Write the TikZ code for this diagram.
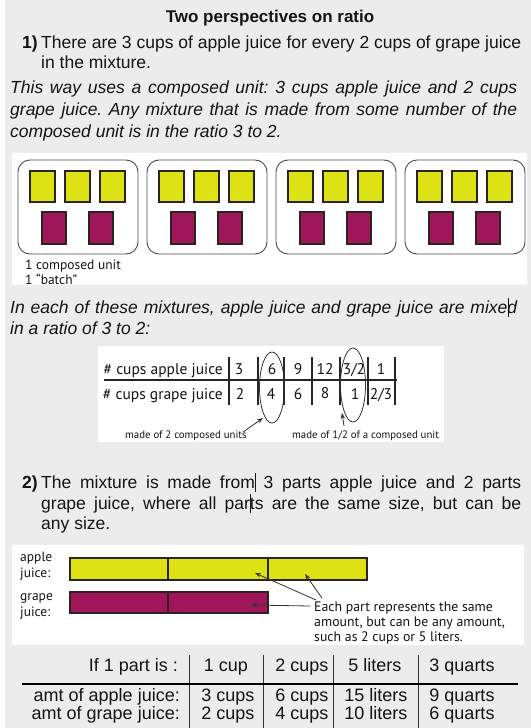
\documentclass[tikz,border=0pt]{standalone}
\usepackage{fontspec}
\setmainfont{Liberation Sans}
\newfontfamily\myr{PT Sans}
\usetikzlibrary{arrows.meta,shapes.geometric}
\definecolor{bgc}{RGB}{236,236,236}
\definecolor{ayel}{RGB}{220,226,20}
\definecolor{gpur}{RGB}{160,22,90}
\definecolor{edgec}{RGB}{45,35,30}
\definecolor{inkc}{RGB}{20,20,20}
\newcommand{\tcur}{\rlap{\kern0.3bp\rule[-4bp]{0.7bp}{19bp}}}
\frenchspacing
\tikzset{
  bodyt/.style={inner sep=0, anchor=base west, text=inkc, font=\fontsize{17.5bp}{20bp}\selectfont},
  itt/.style={inner sep=0, anchor=base west, text=inkc, font=\fontsize{17.5bp}{20bp}\selectfont\itshape},
  ttl/.style={inner sep=0, anchor=base, text=inkc, font=\fontsize{17bp}{19bp}\selectfont\bfseries},
  smallt/.style={inner sep=0, anchor=base west, text=inkc, font=\myr\fontsize{13.5bp}{15bp}\selectfont},
  tabt/.style={inner sep=0, anchor=base, text=inkc, font=\myr\fontsize{15.5bp}{17bp}\selectfont},
  tablab/.style={inner sep=0, anchor=base east, text=inkc, font=\myr\fontsize{15.5bp}{17bp}\selectfont},
  notet/.style={inner sep=0, anchor=base west, text=inkc, font=\myr\fontsize{10.8bp}{13bp}\selectfont},
  eacht/.style={inner sep=0, anchor=base west, text=inkc, font=\myr\fontsize{13.8bp}{16bp}\selectfont},
  bt/.style={inner sep=0, anchor=base, text=inkc, font=\fontsize{18bp}{20bp}\selectfont},
  blab/.style={inner sep=0, anchor=base east, text=inkc, font=\fontsize{18bp}{20bp}\selectfont},
  batchbox/.style={draw=black!70, line width=0.9bp, rounded corners=12bp, fill=white, minimum width=120bp, minimum height=94bp, inner sep=0},
  ycup/.style={draw=edgec, line width=1.1bp, fill=ayel, minimum width=25bp, minimum height=31bp, inner sep=0},
  pcup/.style={draw=edgec, line width=1.1bp, fill=gpur, minimum width=24bp, minimum height=32bp, inner sep=0},
  tline/.style={draw=black!85, line width=1.2bp},
  ring/.style={draw=black!80, line width=0.8bp, ellipse, inner sep=0},
  arr/.style={draw=black!80, line width=0.8bp, -{Stealth[length=6bp,width=4.5bp]}},
  barstyle/.style={draw=edgec, line width=1.3bp},
}
\begin{document}
\begin{tikzpicture}[x=1bp,y=-1bp]
\useasboundingbox (0,0) rectangle (531,728);
\fill[white] (0,0) rectangle (531,728);
\fill[bgc] (5,0) rectangle (531,728);
\fill[white] (12,153) rectangle (527,285);
\fill[white] (98,346) rectangle (444,442);
\fill[white] (12,545) rectangle (524,645);

% title and part 1
\node[ttl] (title) at (270,23) {Two perspectives on ratio};
\node[bodyt] (n1) at (22,49) {\bfseries 1)};
\node[bodyt] (l1a) at (41,49) {\makebox[480bp][s]{There are 3 cups of apple juice for every 2 cups of grape juice}};
\node[bodyt] (l1b) at (41,69) {in the mixture.};
\node[itt] (i1) at (10,94) {\makebox[507bp][s]{This way uses a composed unit: 3 cups apple juice and 2 cups}};
\node[itt] (i2) at (10,116) {\makebox[507bp][s]{grape juice. Any mixture that is made from some number of the}};
\node[itt] (i3) at (10,138) {composed unit is in the ratio 3 to 2.};

% batches
\foreach \i in {0,1,2,3}{
  \pgfmathsetmacro\L{18+129*\i}
  \node[batchbox] (b\i) at ({\L+60},207) {};
  \foreach \k in {0,1,2}{
    \node[ycup] (y\i\k) at ({\L+24.5+35*\k},186.5) {};
  }
  \foreach \k in {0,1}{
    \node[pcup] (p\i\k) at ({\L+36+47*\k},228) {};
  }
}
\node[smallt] (cu1) at (25,269) {1 composed unit};
\node[smallt] (cu2) at (25,284) {1 “batch”};

% mixtures text
\node[itt] (m1) at (10,313) {\makebox[507bp][s]{In each of these mixtures, apple juice and grape juice are mixe\tcur d}};
\node[itt] (m2) at (10,334) {in a ratio of 3 to 2:};

% table 1
\draw[tline] (104,380) -- (397,380);
\foreach \x in {229,258,284,312,368,395}{
  \draw[tline] (\x,357) -- (\x,405);
}
\draw[draw=black!85, line width=2.2bp] (340,357) -- (340,405);
\node[tablab] (ra) at (223,374) {\# cups apple juice};
\node[tablab] (rg) at (223,399) {\# cups grape juice};
\node[tabt] (a1) at (239,374) {3};
\node[tabt] (a2) at (272,374) {6};
\node[tabt] (a3) at (298,374) {9};
\node[tabt] (a4) at (325,374) {12};
\node[tabt] (a5) at (354,374) {3/2};
\node[tabt] (a6) at (381,374) {1};
\node[tabt] (g1) at (240,399) {2};
\node[tabt] (g2) at (271,399) {4};
\node[tabt] (g3) at (298,399) {6};
\node[tabt] (g4) at (325,398) {8};
\node[tabt] (g5) at (355,399) {1};
\node[tabt] (g6) at (381,399) {2/3};
\node[ring, minimum width=25bp, minimum height=71bp] (e1) at (272,387.5) {};
\node[ring, minimum width=25bp, minimum height=74bp] (e2) at (353,385) {};
\node[notet] (n2c) at (125,438) {made of 2 composed units};
\node[notet] (nhc) at (292,438) {made of 1/2 of a composed unit};
\coordinate (a1s) at (243,432);
\coordinate (a1e) at (263,418);
\coordinate (a2s) at (344,426);
\coordinate (a2e) at (342,413);
\draw[arr] (a1s) -- (a1e);
\draw[arr] (a2s) -- (a2e);

% part 2
\node[bodyt] (n2) at (22,488) {\bfseries 2)};
\node[bodyt] (p2a) at (41,488) {\makebox[480bp][s]{The mixture is made from\tcur{} 3 parts apple juice and 2 parts}};
\node[bodyt] (p2b) at (41,509) {\makebox[480bp][s]{grape juice, where all par\tcur ts are the same size, but can be}};
\node[bodyt] (p2c) at (41,529) {any size.};

% bars
\node[smallt] (la1) at (20,561) {apple};
\node[smallt] (la2) at (20,577) {juice:};
\node[smallt] (lg1) at (20,600) {grape};
\node[smallt] (lg2) at (20,616) {juice:};
\filldraw[barstyle, fill=ayel] (70,558) rectangle (367,580);
\draw[barstyle] (168,558) -- (168,580);
\draw[barstyle] (268,558) -- (268,580);
\filldraw[barstyle, fill=gpur] (70,592) rectangle (268,613);
\draw[barstyle] (168,592) -- (168,613);
\node[eacht] (e1t) at (314,611) {Each part represents the same};
\node[eacht] (e2t) at (314,626) {amount, but can be any amount,};
\node[eacht] (e3t) at (314,641) {such as 2 cups or 5 liters.};
\coordinate (t1) at (316,600);
\coordinate (h1) at (255,573);
\coordinate (t2) at (322,598);
\coordinate (h2) at (305,574);
\coordinate (t3) at (310,606);
\coordinate (h3) at (251,605);
\draw[arr] (t1) -- (h1);
\draw[arr] (t2) -- (h2);
\draw[arr] (t3) -- (h3);

% bottom table
\foreach \x in {189,263,333,418}{
  \draw[draw=black!80, line width=1bp] (\x,655) -- (\x,728);
}
\draw[draw=black, line width=2.6bp] (22,684) -- (518,684);
\node[blab] (h0) at (178,671) {If 1 part is :};
\node[bt] (h1t) at (226,671) {1 cup};
\node[bt] (h2t) at (302,671) {2 cups};
\node[bt] (h3t) at (375,671) {5 liters};
\node[bt] (h4t) at (462,671) {3 quarts};
\node[blab] (r1) at (180,701) {amt of apple juice:};
\node[bt] (r11) at (228,701) {3 cups};
\node[bt] (r12) at (302,701) {6 cups};
\node[bt] (r13) at (376,701) {15 liters};
\node[bt] (r14) at (462,701) {9 quarts};
\node[blab] (r2) at (180,719) {amt of grape juice:};
\node[bt] (r21) at (228,719) {2 cups};
\node[bt] (r22) at (302,719) {4 cups};
\node[bt] (r23) at (376,719) {10 liters};
\node[bt] (r24) at (462,719) {6 quarts};
\end{tikzpicture}
\end{document}
